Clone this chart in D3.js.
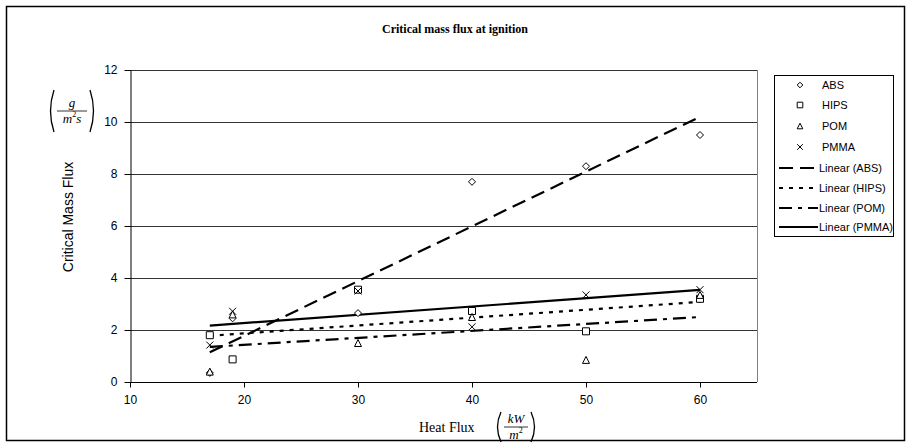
<!DOCTYPE html>
<html>
<head>
<meta charset="utf-8">
<script src="https://cdn.jsdelivr.net/npm/d3@7"></script>
<style>
body{margin:0;background:#fff}
text{font-family:"Liberation Sans",Arial,sans-serif}
text.serif{font-family:"Liberation Serif","Times New Roman",serif}
</style>
</head>
<body>
<div id="chart"></div>
<script>
// data
var heatFlux=[17,19,30,40,50,60]
var absVals=[0.35,2.45,2.65,7.7,8.3,9.5]
var hipsVals=[1.8,0.87,3.55,2.73,1.95,3.2]
var pomVals=[0.4,2.6,1.5,2.5,0.85,3.35]
var pmmaVals=[1.42,2.72,3.5,2.12,3.35,3.55]
// linear trend lines (value at first / last x)
var trendX=[17,60]
var absTrend=[1.14,10.2]
var hipsTrend=[1.78,3.08]
var pomTrend=[1.35,2.5]
var pmmaTrend=[2.17,3.54]
var yTicks=[0,2,4,6,8,10,12]
var xTicks=[10,20,30,40,50,60]

var svgWidth=908
var svgHeight=444

var plot={left:130, right:757, top:70, bottom:382}

var svg=d3.select("#chart")
    .append("svg")
    .attr("width", svgWidth)
    .attr("height", svgHeight)

// outer chart border
svg.append("rect")
    .attr("x", 6.5).attr("y", 6.5)
    .attr("width", 898).attr("height", 434)
    .attr("fill", "#fff").attr("stroke", "#000").attr("stroke-width", 1.5)

var xScale=d3.scaleLinear().domain([10,65]).range([plot.left, plot.right])
var yScale=d3.scaleLinear().domain([0,12]).range([plot.bottom, plot.top])

// plot area right border (grey)
svg.append("line")
    .attr("x1", plot.right+0.5).attr("x2", plot.right+0.5)
    .attr("y1", plot.top).attr("y2", plot.bottom)
    .attr("stroke", "#808080")

// gridlines
svg.append("g").selectAll("line")
    .data(yTicks.filter(d=>d>0))
    .enter().append("line")
    .attr("x1", plot.left).attr("x2", plot.right)
    .attr("y1", d=>Math.round(yScale(d))+0.5)
    .attr("y2", d=>Math.round(yScale(d))+0.5)
    .attr("stroke", "#000").attr("stroke-width", 0.8)

var bottomAxis=d3.axisBottom(xScale).tickValues(xTicks).tickSizeInner(5).tickSizeOuter(0).tickPadding(8)
var leftAxis=d3.axisLeft(yScale).tickValues(yTicks).tickSizeInner(6).tickSizeOuter(0).tickPadding(7)

var gx=svg.append("g").attr("transform", `translate(0, ${plot.bottom+0.5})`).call(bottomAxis)
var gy=svg.append("g").attr("transform", `translate(${plot.left+0.5}, 0)`).call(leftAxis)
gx.selectAll("path").attr("d", `M${plot.left},0H${plot.right}`)
;[gx,gy].forEach(g=>{
    g.selectAll("text").attr("font-size", 12).attr("fill", "#000").attr("font-family", "Liberation Sans, Arial, sans-serif")
    g.selectAll("line,path").attr("stroke", "#000")
})

// title
svg.append("text")
    .attr("class", "serif")
    .attr("x", 455).attr("y", 33)
    .attr("text-anchor", "middle")
    .attr("font-size", 12).attr("font-weight", "bold")
    .text("Critical mass flux at ignition")

// y axis title
svg.append("text")
    .attr("transform", "translate(73,217) rotate(-90)")
    .attr("text-anchor", "middle")
    .attr("font-size", 14)
    .text("Critical Mass Flux")

// unit written as a fraction in tall parentheses
function fraction(x, y, top, bottom, sup, after, w, h){
    var g=svg.append("g").attr("transform", `translate(${x},${y})`)
    var px=w/2+5
    g.append("path")
        .attr("d", `M${-px+2},${-h/2}Q${-px-5},0 ${-px+2},${h/2}M${px-2},${-h/2}Q${px+5},0 ${px-2},${h/2}`)
        .attr("fill", "none").attr("stroke", "#000").attr("stroke-width", 1.3)
    g.append("line").attr("x1", -w/2).attr("x2", w/2).attr("y1", 0).attr("y2", 0)
        .attr("stroke", "#000").attr("stroke-width", 0.8)
    g.append("text").attr("class", "serif").attr("x", 0).attr("y", -4).attr("text-anchor", "middle")
        .attr("font-size", 13).attr("font-style", "italic").text(top)
    var b=g.append("text").attr("class", "serif").attr("x", 0).attr("y", 12).attr("text-anchor", "middle")
        .attr("font-size", 13).attr("font-style", "italic")
    b.append("tspan").text(bottom)
    b.append("tspan").attr("font-size", 8).attr("dy", -6).attr("font-style", "normal").text(sup)
    if(after) b.append("tspan").attr("dy", 6).text(after)
}
fraction(72, 111, "g", "m", "2", "s", 30, 42)

// x axis title
svg.append("text")
    .attr("class", "serif")
    .attr("x", 419).attr("y", 432)
    .attr("font-size", 14)
    .text("Heat Flux")
fraction(516, 427, "kW", "m", "2", null, 24, 30)

// series
var series=[
    {name:"ABS", vals:absVals, trend:absTrend, shape:"diamond", dash:"14,7"},
    {name:"HIPS", vals:hipsVals, trend:hipsTrend, shape:"square", dash:"4,6"},
    {name:"POM", vals:pomVals, trend:pomTrend, shape:"triangle", dash:"13,6,4,6"},
    {name:"PMMA", vals:pmmaVals, trend:pmmaTrend, shape:"cross", dash:null}
]

function marker(shape, s){
    if(shape=="diamond") return `M0,${-s}L${s},0L0,${s}L${-s},0Z`
    if(shape=="square") return `M${-s},${-s}H${s}V${s}H${-s}Z`
    if(shape=="triangle") return `M0,${-s}L${s},${s}H${-s}Z`
    return `M${-s},${-s}L${s},${s}M${s},${-s}L${-s},${s}`
}

var line=d3.line().x(d=>xScale(d[0])).y(d=>yScale(d[1]))

series.forEach(s=>{
    svg.append("path")
        .attr("d", line(trendX.map((x,i)=>[x, s.trend[i]])))
        .attr("fill", "none").attr("stroke", "#000").attr("stroke-width", 2.2)
        .attr("stroke-dasharray", s.dash)
})

series.forEach(s=>{
    svg.append("g").selectAll("path")
        .data(heatFlux.map((x,i)=>[x, s.vals[i]]))
        .enter().append("path")
        .attr("transform", d=>`translate(${xScale(d[0])},${yScale(d[1])})`)
        .attr("d", marker(s.shape, 3.5))
        .attr("fill", s.shape=="cross" ? "none" : "#fff")
        .attr("stroke", "#000").attr("stroke-width", 1)
})

// legend
var legend=svg.append("g")
legend.append("rect")
    .attr("x", 774.5).attr("y", 75.5).attr("width", 119).attr("height", 161)
    .attr("fill", "#fff").attr("stroke", "#000").attr("stroke-width", 1)
var rowY=[85,105,126,147,168,188,208,227]
series.forEach((s,i)=>{
    legend.append("path")
        .attr("transform", `translate(800,${rowY[i]})`)
        .attr("d", marker(s.shape, 2.8))
        .attr("fill", "none").attr("stroke", "#000").attr("stroke-width", 1)
    legend.append("text").attr("x", 822).attr("y", rowY[i]+4)
        .attr("font-size", 11).text(s.name)
    legend.append("line")
        .attr("x1", 779).attr("x2", 818).attr("y1", rowY[i+4]).attr("y2", rowY[i+4])
        .attr("stroke", "#000").attr("stroke-width", 2.2).attr("stroke-dasharray", s.dash)
    legend.append("text").attr("x", 819).attr("y", rowY[i+4]+4)
        .attr("font-size", 11).text(`Linear (${s.name})`)
})
</script>
</body>
</html>
